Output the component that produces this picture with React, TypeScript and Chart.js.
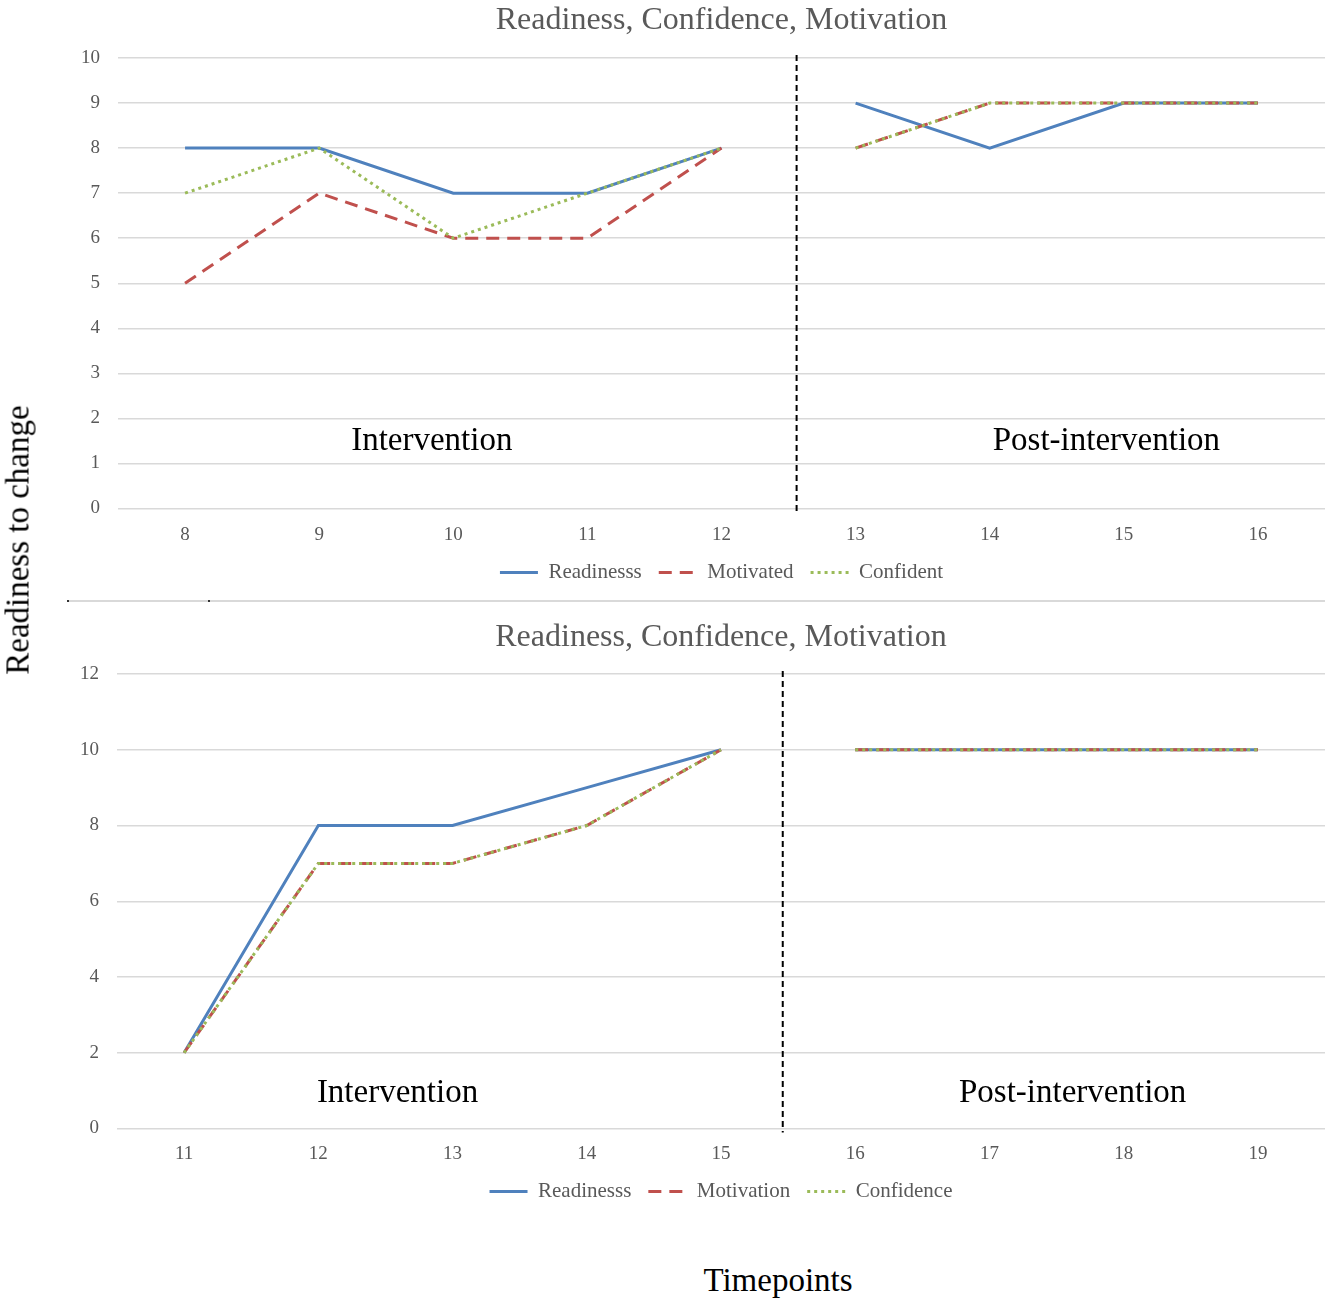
import React, { useEffect, useRef } from 'react';
import { Chart, registerables } from 'chart.js';

Chart.register(...registerables);

// ---------- data ----------
const topCategories = ['8', '9', '10', '11', '12', '13', '14', '15', '16'];
const topReadiness = [8, 8, 7, 7, 8, 9, 8, 9, 9];
const topMotivated = [5, 7, 6, 6, 8, 8, 9, 9, 9];
const topConfident = [7, 8, 6, 7, 8, 8, 9, 9, 9];
const topSeriesNames = ['Readinesss', 'Motivated', 'Confident'];

const bottomCategories = ['11', '12', '13', '14', '15', '16', '17', '18', '19'];
const bottomReadiness = [2, 8, 8, 9, 10, 10, 10, 10, 10];
const bottomMotivation = [2, 7, 7, 8, 10, 10, 10, 10, 10];
const bottomConfidence = [2, 7, 7, 8, 10, 10, 10, 10, 10];
const bottomSeriesNames = ['Readinesss', 'Motivation', 'Confidence'];

const chartTitle = 'Readiness, Confidence, Motivation';
const phaseLabels = ['Intervention', 'Post-intervention'];
const yAxisTitle = 'Readiness to change';
const xAxisTitle = 'Timepoints';

// ---------- styles ----------
const SERIF = '"Liberation Serif", "Times New Roman", serif';
const GREY_TEXT = '#595959';
const GRID = '#D9D9D9';
const BLUE = '#4F81BD';
const RED = '#C0504D';
const GREEN = '#9BBB59';
const SERIES_COLORS = [BLUE, RED, GREEN];
const SERIES_DASHES = [[], [13, 8], [3, 4]];
const SERIES_ORDER = [3, 2, 1];

type PanelSpec = {
  labels: string[];
  series: number[][];
  names: string[];
  yMax: number;
  yStep: number;
  breakAfter: number;
  dividerAt: number;
  phaseText: { x: number; y: number; text: string }[];
  leftWidth: number;
  titlePad: { top: number; bottom: number };
  xTickPad: number;
  xAxisHeight: number;
  legendPad: number;
  width: number;
  height: number;
};

function makePhasePlugin(spec: PanelSpec) {
  return {
    id: 'phases',
    afterDatasetsDraw(chart: any) {
      const { ctx, chartArea } = chart;
      const xs = chart.scales.x;
      const ys = chart.scales.y;
      const dx = xs.getPixelForValue(spec.dividerAt);
      ctx.save();
      ctx.strokeStyle = '#000000';
      ctx.lineWidth = 2;
      ctx.setLineDash([6, 4]);
      ctx.beginPath();
      ctx.moveTo(dx, chartArea.top - 3);
      ctx.lineTo(dx, chartArea.bottom + 4);
      ctx.stroke();
      ctx.setLineDash([]);
      ctx.fillStyle = '#000000';
      ctx.font = `33px ${SERIF}`;
      ctx.textAlign = 'center';
      ctx.textBaseline = 'middle';
      spec.phaseText.forEach((p) => {
        ctx.fillText(p.text, xs.getPixelForValue(p.x), ys.getPixelForValue(p.y));
      });
      ctx.restore();
    },
  };
}

function buildConfig(spec: PanelSpec): any {
  const datasets = spec.series.map((values, i) => ({
    label: spec.names[i],
    data: values,
    borderColor: SERIES_COLORS[i],
    backgroundColor: SERIES_COLORS[i],
    borderWidth: 3,
    borderDash: SERIES_DASHES[i],
    pointRadius: 0,
    pointStyle: 'line',
    fill: false,
    tension: 0,
    order: SERIES_ORDER[i],
    segment: {
      borderColor: (ctx: any) =>
        ctx.p0DataIndex === spec.breakAfter ? 'rgba(0,0,0,0)' : undefined,
    },
  }));
  return {
    type: 'line',
    data: { labels: spec.labels, datasets },
    options: {
      responsive: false,
      animation: false,
      events: [],
      layout: { padding: { left: 0, right: 0, top: 0, bottom: 0 } },
      plugins: {
        title: {
          display: true,
          text: chartTitle,
          color: GREY_TEXT,
          fullSize: false,
          font: { family: SERIF, size: 32, weight: 'normal' },
          padding: spec.titlePad,
        },
        legend: {
          position: 'bottom',
          fullSize: false,
          labels: {
            usePointStyle: true,
            pointStyleWidth: 38,
            padding: spec.legendPad,
            color: GREY_TEXT,
            font: { family: SERIF, size: 21 },
            sort: (a: any, b: any) => a.datasetIndex - b.datasetIndex,
            generateLabels: (chart: any) => {
              const items = Chart.defaults.plugins.legend.labels.generateLabels(chart);
              return items.map((it: any) => {
                const ds = chart.data.datasets[it.datasetIndex];
                return {
                  ...it,
                  lineDash: ds.borderDash,
                  lineWidth: ds.borderWidth,
                  strokeStyle: ds.borderColor,
                  fillStyle: ds.borderColor,
                  pointStyle: 'line',
                };
              });
            },
          },
        },
        tooltip: { enabled: false },
      },
      scales: {
        x: {
          offset: true,
          grid: { display: false, drawTicks: false },
          border: { display: false },
          ticks: {
            color: GREY_TEXT,
            font: { family: SERIF, size: 19 },
            padding: spec.xTickPad,
            maxRotation: 0,
          },
          afterFit: (scale: any) => {
            scale.height = spec.xAxisHeight;
          },
        },
        y: {
          min: 0,
          max: spec.yMax,
          grid: { color: GRID, lineWidth: 1.5, drawTicks: false },
          border: { display: false },
          ticks: {
            stepSize: spec.yStep,
            color: GREY_TEXT,
            font: { family: SERIF, size: 19 },
            padding: 18,
          },
          afterFit: (scale: any) => {
            scale.width = spec.leftWidth;
          },
        },
      },
    },
    plugins: [makePhasePlugin(spec)],
  };
}

const topSpec: PanelSpec = {
  labels: topCategories,
  series: [topReadiness, topMotivated, topConfident],
  names: topSeriesNames,
  yMax: 10,
  yStep: 1,
  breakAfter: 4,
  dividerAt: 4.56,
  phaseText: [
    { x: 1.84, y: 1.5, text: phaseLabels[0] },
    { x: 6.87, y: 1.5, text: phaseLabels[1] },
  ],
  leftWidth: 118,
  titlePad: { top: 1, bottom: 18.6 },
  xTickPad: 15,
  xAxisHeight: 36.5,
  legendPad: 17,
  width: 1325,
  height: 593,
};

const bottomSpec: PanelSpec = {
  labels: bottomCategories,
  series: [bottomReadiness, bottomMotivation, bottomConfidence],
  names: bottomSeriesNames,
  yMax: 12,
  yStep: 2,
  breakAfter: 4,
  dividerAt: 4.46,
  phaseText: [
    { x: 1.59, y: 0.93, text: phaseLabels[0] },
    { x: 6.62, y: 0.93, text: phaseLabels[1] },
  ],
  leftWidth: 117,
  titlePad: { top: 16.8, bottom: 16.8 },
  xTickPad: 14,
  xAxisHeight: 35.5,
  legendPad: 17,
  width: 1325,
  height: 610,
};

function Panel({ spec, top }: { spec: PanelSpec; top: number }) {
  const ref = useRef<HTMLCanvasElement | null>(null);
  useEffect(() => {
    if (!ref.current) return;
    const chart = new Chart(ref.current, buildConfig(spec));
    return () => chart.destroy();
  }, [spec]);
  return (
    <canvas
      ref={ref}
      width={spec.width}
      height={spec.height}
      style={{ position: 'absolute', left: 0, top, width: spec.width, height: spec.height }}
    />
  );
}

export default function App() {
  return (
    <div
      style={{
        position: 'absolute',
        left: 0,
        top: 0,
        width: 1325,
        height: 1302,
        background: '#ffffff',
        overflow: 'hidden',
      }}
    >
      <Panel spec={topSpec} top={0} />
      <div style={{ position: 'absolute', left: 68, top: 600, width: 1257, height: 2, background: GRID }} />
      <div style={{ position: 'absolute', left: 67, top: 600, width: 2, height: 2, background: '#333' }} />
      <div style={{ position: 'absolute', left: 208, top: 600, width: 2, height: 2, background: '#333' }} />
      <Panel spec={bottomSpec} top={602} />
      <div
        style={{
          position: 'absolute',
          left: 18,
          top: 540,
          transform: 'translate(-50%, -50%) rotate(-90deg)',
          whiteSpace: 'nowrap',
          fontFamily: SERIF,
          fontSize: 33,
          color: '#000',
          lineHeight: 1,
        }}
      >
        {yAxisTitle}
      </div>
      <div
        style={{
          position: 'absolute',
          left: 778,
          top: 1280,
          transform: 'translate(-50%, -50%)',
          whiteSpace: 'nowrap',
          fontFamily: SERIF,
          fontSize: 33,
          color: '#000',
          lineHeight: 1,
        }}
      >
        {xAxisTitle}
      </div>
    </div>
  );
}
